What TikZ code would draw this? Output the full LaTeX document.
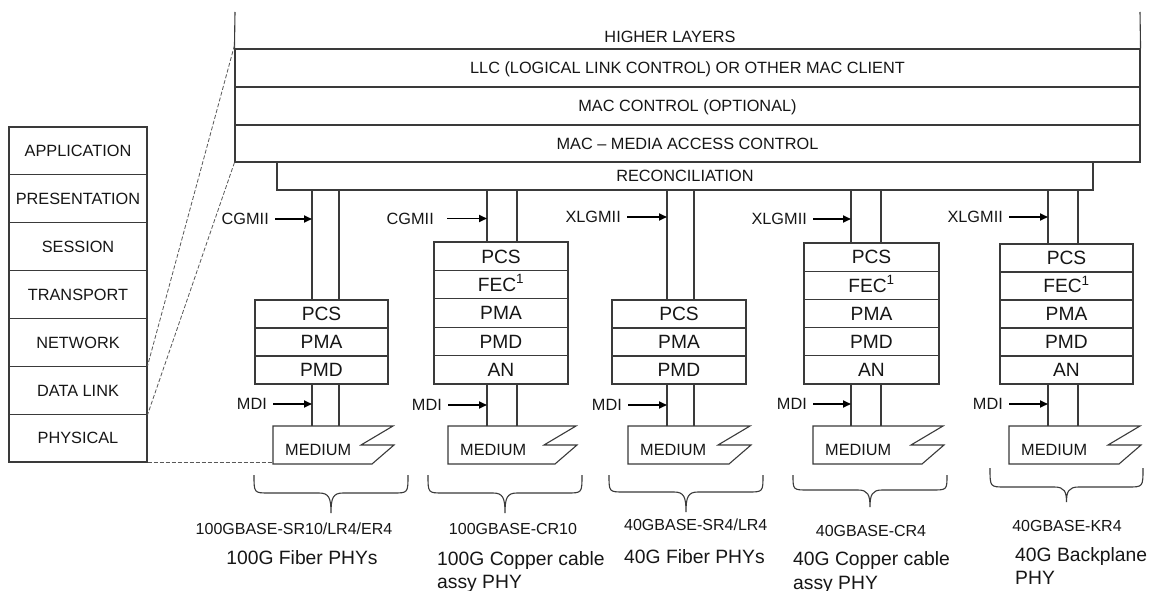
\documentclass[tikz,border=0pt]{standalone}
\usepackage{fontspec}
\setmainfont{Liberation Sans}
\usetikzlibrary{arrows.meta}
\definecolor{lncol}{HTML}{3A3A3A}
\definecolor{txt}{HTML}{161616}
\newcommand\fA{\fontsize{16.3}{19}\selectfont}
\newcommand\fB{\fontsize{19.2}{22}\selectfont}
\newcommand\fC{\fontsize{16}{19}\selectfont}
\newcommand\fD{\fontsize{19.3}{23.5}\selectfont}
\newcommand\MediumShape[3]{%
  \coordinate (#1) at (#2,426);
  \coordinate (#1b) at (#2,464);
  \draw[ln, line join=miter] (#1) -- (#2+#3,426) -- (#2+#3-32,445) -- (#2+#3+1,445) -- (#2+#3-21,464) -- (#1b) -- cycle;
  \node[lbl, anchor=west] (#1t) at (#2+12,450) {MEDIUM};}
\newcommand\PhyBrace[5]{%
  \draw[bracestyle] (#1,#3) .. controls (#1,#4) .. (#1+15,#4)
    -- ({(#1+#2)/2-12},#4) .. controls ({(#1+#2)/2-2},#4) and ({(#1+#2)/2},#4+5) .. ({(#1+#2)/2},#5)
    .. controls ({(#1+#2)/2},#4+5) and ({(#1+#2)/2+2},#4) .. ({(#1+#2)/2+12},#4)
    -- (#2-15,#4) .. controls (#2,#4) .. (#2,#3);}
\begin{document}
\begin{tikzpicture}[x=1pt,y=-1pt,
  ln/.style={draw=lncol, line width=1.1pt},
  layer/.style={ln, rectangle, inner sep=0pt, font=\fA, text=txt, text height=11.7pt, text depth=0pt},
  osi/.style={layer, minimum width=138pt, minimum height=47.857pt},
  hostrow/.style={layer, minimum width=905pt, minimum height=38pt},
  phy/.style={ln, rectangle, inner sep=0pt, font=\fB, text=txt, text height=13.7pt, text depth=0pt},
  lbl/.style={inner sep=0pt, font=\fA, text=txt, text height=11.7pt, text depth=0pt},
  ifarrow/.style={draw=black, line width=1.8pt, -{Triangle[length=8pt,width=7pt]}, shorten <=6pt},
  osidash/.style={draw=lncol!85, line width=0.8pt, dash pattern=on 4pt off 2pt},
  bracestyle/.style={draw=lncol, line width=1.1pt},
  stdname/.style={inner sep=0pt, font=\fC, text=txt, anchor=base},
  phyname/.style={inner sep=0pt, font=\fD, text=txt, anchor=base}]
\useasboundingbox (0,0) rectangle (1154,591);
\fill[white] (0,0) rectangle (1154,591);

% ---- host layers ----
\node[lbl] (hl) at (670,37) {HIGHER LAYERS};
\node[hostrow] (llc) at (687.5,68) {LLC (LOGICAL LINK CONTROL) OR OTHER MAC CLIENT};
\node[hostrow] (macc) at (687.5,106) {MAC CONTROL (OPTIONAL)};
\node[hostrow, minimum height=37pt] (mac) at (687.5,143.5) {MAC – MEDIA ACCESS CONTROL};
\coordinate (topL) at (235,12);
\coordinate (topR) at (1140,12);
\draw[ln] (topL) -- (llc.north west);
\draw[ln] (topR) -- (llc.north east);
\node[layer, minimum width=816pt, minimum height=28pt] (rec) at (685,176) {RECONCILIATION};

% ---- OSI stack ----
\foreach \t [count=\i] in {APPLICATION,PRESENTATION,SESSION,TRANSPORT,NETWORK,DATA LINK,PHYSICAL}
  \node[osi] (osi\i) at (78,{127+47.857*(\i-0.5)}) {\t};

% ---- PHY stacks ----
\foreach \t [count=\i] in {PCS,PMA,PMD}
  \node[phy, minimum width=133pt, minimum height=28pt] (c1r\i) at (321.5,{300+28*(\i-0.5)}) {\t};
\foreach \t [count=\i] in {PCS,FEC\textsuperscript{1},PMA,PMD,AN}
  \node[phy, minimum width=134pt, minimum height=28.4pt] (c2r\i) at (501,{242+28.4*(\i-0.5)}) {\t};
\foreach \t [count=\i] in {PCS,PMA,PMD}
  \node[phy, minimum width=134pt, minimum height=28pt] (c3r\i) at (679,{300+28*(\i-0.5)}) {\t};
\foreach \t [count=\i] in {PCS,FEC\textsuperscript{1},PMA,PMD,AN}
  \node[phy, minimum width=135pt, minimum height=28.2pt] (c4r\i) at (871.5,{243+28.2*(\i-0.5)}) {\t};
\foreach \t [count=\i] in {PCS,FEC\textsuperscript{1},PMA,PMD,AN}
  \node[phy, minimum width=133pt, minimum height=28pt] (c5r\i) at (1066.5,{244+28*(\i-0.5)}) {\t};

% ---- media ----
\MediumShape{m1}{273}{120}
\MediumShape{m2}{448}{128}
\MediumShape{m3}{628}{122}
\MediumShape{m4}{813}{130}
\MediumShape{m5}{1009}{131}

% ---- channel lines ----
\coordinate (v1a) at (312,0); \coordinate (v1b) at (339,0);
\coordinate (v2a) at (487,0); \coordinate (v2b) at (517,0);
\coordinate (v3a) at (667,0); \coordinate (v3b) at (694,0);
\coordinate (v4a) at (851,0); \coordinate (v4b) at (881,0);
\coordinate (v5a) at (1048,0); \coordinate (v5b) at (1078,0);
\foreach \c/\last in {1/3,2/5,3/3,4/5,5/5}{
  \draw[ln] (rec.south -| v\c a) -- (c\c r1.north -| v\c a);
  \draw[ln] (rec.south -| v\c b) -- (c\c r1.north -| v\c b);
  \draw[ln] (c\c r\last.south -| v\c a) -- (m\c -| v\c a);
  \draw[ln] (c\c r\last.south -| v\c b) -- (m\c -| v\c b);
}

% ---- interface labels and arrows ----
\node[lbl, anchor=east] (if1) at (269,219) {CGMII};
\node[lbl, anchor=east] (if2) at (434,218.5) {CGMII};
\node[lbl, anchor=east] (if3) at (621,217) {XLGMII};
\node[lbl, anchor=east] (if4) at (807,219) {XLGMII};
\node[lbl, anchor=east] (if5) at (1003,217) {XLGMII};
\draw[ifarrow] (if1.east) -- (if1.east -| v1a);
\draw[ifarrow, shorten <=13pt] (if2.east) -- (if2.east -| v2a);
\draw[ifarrow] (if3.east) -- (if3.east -| v3a);
\draw[ifarrow] (if4.east) -- (if4.east -| v4a);
\draw[ifarrow] (if5.east) -- (if5.east -| v5a);

\node[lbl, anchor=east] (md1) at (267,404) {MDI};
\node[lbl, anchor=east] (md2) at (442,405) {MDI};
\node[lbl, anchor=east] (md3) at (622,405) {MDI};
\node[lbl, anchor=east] (md4) at (807,404) {MDI};
\node[lbl, anchor=east] (md5) at (1003,404) {MDI};
\draw[ifarrow] (md1.east) -- (md1.east -| v1a);
\draw[ifarrow] (md2.east) -- (md2.east -| v2a);
\draw[ifarrow] (md3.east) -- (md3.east -| v3a);
\draw[ifarrow] (md4.east) -- (md4.east -| v4a);
\draw[ifarrow] (md5.east) -- (md5.east -| v5a);

% ---- OSI mapping dashes ----
\draw[osidash] ([yshift=3pt]llc.north west) -- (osi6.north east);
\draw[osidash] (mac.south west) -- (osi6.south east);
\draw[osidash] (osi7.south east) -- (osi7.south east -| m1b);

% ---- braces ----
\PhyBrace{254}{408}{475}{493}{513}
\PhyBrace{428}{582}{475}{493}{513}
\PhyBrace{609}{763}{475}{492}{512}
\PhyBrace{793}{947}{475}{490}{507}
\PhyBrace{990}{1143}{468}{487}{502}

% ---- PHY names ----
\node[stdname] (s1) at (294,534) {100GBASE-SR10/LR4/ER4};
\node[stdname] (s2) at (513,534) {100GBASE-CR10};
\node[stdname, anchor=base west] (s3) at (624,530.7) {40GBASE-SR4/LR4};
\node[stdname] (s4) at (871,536.5) {40GBASE-CR4};
\node[stdname] (s5) at (1067,531.5) {40GBASE-KR4};

\node[phyname] (p1) at (302,564.5) {100G Fiber PHYs};
\node[phyname, anchor=base west] (p2) at (437,565.3) {\begin{tabular}[t]{@{}l@{}}100G Copper cable\\assy PHY\end{tabular}};
\node[phyname, anchor=base west] (p3) at (624,563) {40G Fiber PHYs};
\node[phyname, anchor=base west] (p4) at (793,565.7) {\begin{tabular}[t]{@{}l@{}}40G Copper cable\\assy PHY\end{tabular}};
\node[phyname, anchor=base west] (p5) at (1015,561) {\begin{tabular}[t]{@{}l@{}}40G Backplane\\PHY\end{tabular}};
\end{tikzpicture}
\end{document}
